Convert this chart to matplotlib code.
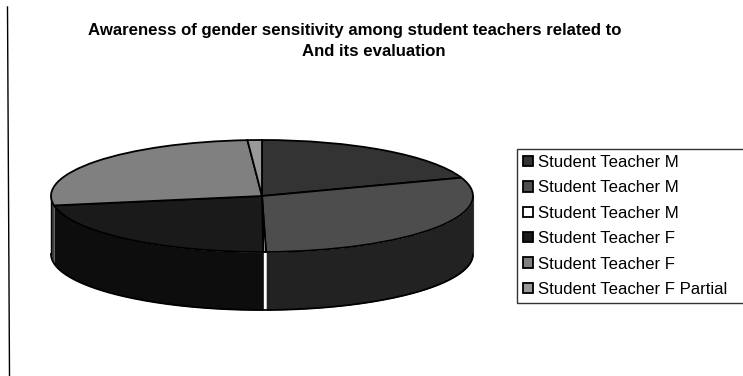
import numpy as np
import matplotlib
matplotlib.use('Agg')
import matplotlib.pyplot as plt

plt.rcParams['font.family'] = ['Liberation Sans', 'DejaVu Sans']

title_lines = ['Awareness of gender sensitivity among student teachers related to',
               'And its evaluation']
labels = ['Student Teacher M', 'Student Teacher M', 'Student Teacher M',
          'Student Teacher F', 'Student Teacher F', 'Student Teacher F Partial']
values = [19.7, 30.0, 0.2, 22.4, 26.6, 1.1]
top_colors = ['#333333', '#4d4d4d', '#ffffff', '#1a1a1a', '#808080', '#999999']
wall_colors = ['#1a1a1a', '#222222', '#ffffff', '#0d0d0d', '#404040', '#4d4d4d']

W, H = 743, 376
fig = plt.figure(figsize=(W/100, H/100), dpi=100)

# pie body, axes box runs from the top of the disc to the bottom of the wall
px_left, px_right, px_top, px_bottom = 51, 473, 140, 310
ax = fig.add_axes([px_left/W, 1-px_bottom/H, (px_right-px_left)/W, (px_bottom-px_top)/H])
depth = 58/56.0

wedges, _ = ax.pie(values, colors=top_colors, startangle=90, counterclock=False,
                   wedgeprops={'edgecolor': 'black', 'linewidth': 1.3, 'zorder': 3})
for w in wedges:
    w.set_clip_on(False)

# side wall: walk the slices clockwise and fill whatever falls on the front half
start = 90.0
for v, c in zip(values, wall_colors):
    end = start - v*3.6
    lo, hi = max(end, -180.0), min(start, 0.0)
    if hi > lo:
        t = np.radians(np.linspace(lo, hi, 60))
        ax.fill_between(np.cos(t), np.sin(t), np.sin(t)-depth, color=c, lw=0, zorder=1, clip_on=False)
    start = end

t = np.radians(np.linspace(180, 360, 200))
ax.plot(np.cos(t), np.sin(t)-depth, color='black', lw=1.3, zorder=2, clip_on=False)
ax.plot([-1, -1], [0, -depth], color='black', lw=1.0, zorder=2, clip_on=False)
ax.plot([1, 1], [0, -depth], color='#333333', lw=0.8, zorder=2, clip_on=False)
ax.set_aspect('auto')
ax.set_xlim(-1, 1)
ax.set_ylim(-1-depth, 1)
ax.axis('off')

# rule down the left side of the page, leans a little
fig.add_artist(plt.Line2D([7.5/W, 9.5/W], [1-7/H, 0], color='black', lw=1.0))

fig.text(354.5/W, 1-31/H, title_lines[0], ha='center', va='center', fontsize=12.05, fontweight='bold')
fig.text(374/W, 1-52/H, title_lines[1], ha='center', va='center', fontsize=12.05, fontweight='bold')

leg = fig.legend(wedges, labels, loc='lower left', mode='expand',
                 bbox_to_anchor=(517/W, 1-303/H, 230/W, 156/H), fontsize=12.1,
                 handlelength=0.58, handleheight=0.58, handletextpad=0.3,
                 labelspacing=0.62, borderpad=0.36, borderaxespad=0,
                 fancybox=False, framealpha=1, edgecolor='#333333')
leg.get_frame().set_linewidth(1.0)

fig.savefig('out.png', dpi=100)
